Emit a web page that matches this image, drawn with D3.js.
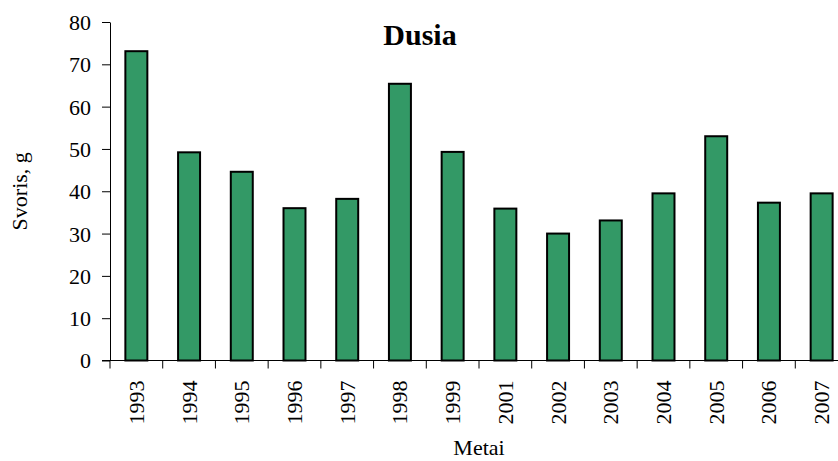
<!DOCTYPE html>
<html>
<head>
<meta charset="utf-8">
<script src="https://cdn.jsdelivr.net/npm/d3@7/dist/d3.min.js"></script>
<style>
  html, body { margin: 0; padding: 0; background: #fff; }
  svg { display: block; }
</style>
</head>
<body>
<script>
// Annual weight (g), one bar per year
const years = ["1993", "1994", "1995", "1996", "1997", "1998", "1999",
               "2001", "2002", "2003", "2004", "2005", "2006", "2007"];
const weights = [73.1, 49.2, 44.6, 36.0, 38.2, 65.4, 49.3,
                 35.9, 30.0, 33.1, 39.5, 53.0, 37.3, 39.5];
const yTicks = [0, 10, 20, 30, 40, 50, 60, 70, 80];
const title = "Dusia";
const xTitle = "Metai";
const yTitle = "Svoris, g";

const FONT = "'Liberation Serif', 'DejaVu Serif', serif";
const W = 838, H = 461;
const plot = { left: 110, right: 848, top: 22, bottom: 360.5 };

const svg = d3.select("body").append("svg")
  .attr("width", W).attr("height", H)
  .attr("font-family", FONT);

const inner = 0.583;
const x = d3.scaleBand()
  .domain(years)
  .range([plot.left, plot.right])
  .paddingInner(inner)
  .paddingOuter(inner / 2);

const y = d3.scaleLinear()
  .domain([0, 80])
  .range([plot.bottom, plot.top]);

// Bars
svg.append("g")
  .selectAll("rect")
  .data(years.map((yr, i) => ({ yr, v: weights[i] })))
  .join("rect")
  .attr("x", d => x(d.yr))
  .attr("width", x.bandwidth())
  .attr("y", d => y(d.v))
  .attr("height", d => y(0) - y(d.v))
  .attr("fill", "#339966")
  .attr("stroke", "#000")
  .attr("stroke-width", 2);

// Y axis
const yAxis = svg.append("g")
  .attr("transform", `translate(${plot.left},0)`)
  .call(d3.axisLeft(y).tickValues(yTicks).tickSize(8).tickPadding(11).tickSizeOuter(0));
yAxis.attr("font-family", FONT).attr("font-size", null);
yAxis.selectAll("text")
  .style("font-family", FONT)
  .style("font-size", "22px")
  .attr("fill", "#000")
  .attr("dy", "0.34em");
yAxis.selectAll("line, path").attr("stroke", "#000");

// X axis: baseline with tick marks on the band boundaries
const step = x.step();
const boundaries = d3.range(years.length + 1).map(i => plot.left + i * step);
const xg = svg.append("g");
xg.append("line")
  .attr("x1", plot.left - 8).attr("x2", plot.right)
  .attr("y1", plot.bottom).attr("y2", plot.bottom)
  .attr("stroke", "#000");
xg.selectAll("line.tick")
  .data(boundaries)
  .join("line")
  .attr("class", "tick")
  .attr("x1", d => d).attr("x2", d => d)
  .attr("y1", plot.bottom).attr("y2", plot.bottom + 8)
  .attr("stroke", "#000");

// Year labels, rotated
xg.selectAll("text")
  .data(years)
  .join("text")
  .attr("transform", d => `translate(${x(d) + x.bandwidth() / 2},${plot.bottom + 20}) rotate(-90)`)
  .attr("text-anchor", "end")
  .attr("dy", "0.34em")
  .style("font-family", FONT)
  .style("font-size", "22px")
  .text(d => d);

// Titles
svg.append("text")
  .attr("x", 420).attr("y", 45)
  .attr("text-anchor", "middle")
  .style("font-family", FONT)
  .style("font-size", "30px").style("font-weight", "bold")
  .text(title);

svg.append("text")
  .attr("x", (plot.left + plot.right) / 2).attr("y", 455)
  .attr("text-anchor", "middle")
  .style("font-family", FONT)
  .style("font-size", "22px")
  .text(xTitle);

svg.append("text")
  .attr("transform", `translate(27,${(plot.top + plot.bottom) / 2}) rotate(-90)`)
  .attr("text-anchor", "middle")
  .style("font-family", FONT)
  .style("font-size", "22px")
  .text(yTitle);
</script>
</body>
</html>
